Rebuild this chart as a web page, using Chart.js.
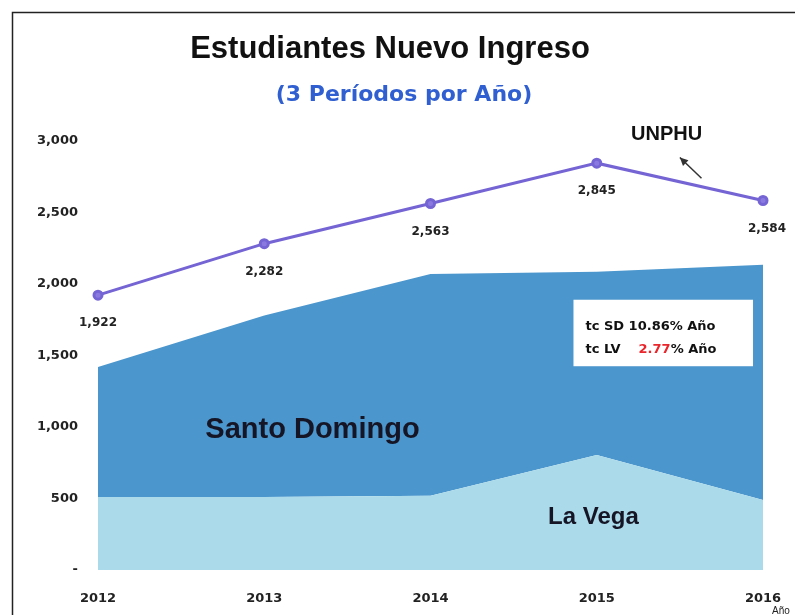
<!DOCTYPE html>
<html>
<head>
<meta charset="utf-8">
<script src="https://cdn.jsdelivr.net/npm/chart.js@4.4.1/dist/chart.umd.min.js"></script>
<style>
  html, body { margin: 0; padding: 0; background: #ffffff; }
  #wrap { width: 795px; height: 615px; position: relative; }
</style>
</head>
<body>
<div id="wrap"><canvas id="c" width="795" height="615"></canvas></div>
<script>
// ---- data ----
const years = ['2012', '2013', '2014', '2015', '2016'];
const unphu = [1922, 2282, 2563, 2845, 2584];
const laVega = [510, 510, 520, 805, 490];
const santoDomingo = [910, 1270, 1550, 1280, 1645];
const yTickValues = [0, 500, 1000, 1500, 2000, 2500, 3000];
const titleText = 'Estudiantes Nuevo Ingreso';
const subtitleText = '(3 Períodos por Año)';
const noteSD = ['tc SD ', '10.86', '% Año'];
const noteLV = ['tc LV ', '2.77', '% Año'];

function fmt(v) { return v === 0 ? '-' : v.toLocaleString('en-US'); }

const decor = {
  id: 'decor',
  afterDraw(chart) {
    const ctx = chart.ctx;
    const xs = chart.scales.x, ys = chart.scales.y;
    const X = v => xs.getPixelForValue(v);
    const Y = v => ys.getPixelForValue(v);
    ctx.save();
    // frame
    ctx.strokeStyle = '#222';
    ctx.lineWidth = 1.5;
    ctx.strokeRect(12.5, 12.5, 800, 620);

    // title
    ctx.fillStyle = '#111';
    ctx.textAlign = 'center';
    ctx.textBaseline = 'alphabetic';
    ctx.font = 'bold 31px "Liberation Sans", Arial, sans-serif';
    ctx.fillText(titleText, 390, 58);
    ctx.fillStyle = '#2f5fd0';
    ctx.font = 'bold 22px "DejaVu Sans", sans-serif';
    ctx.fillText(subtitleText, 404, 101);

    // data labels for UNPHU
    const meta = chart.getDatasetMeta(2);
    ctx.fillStyle = '#222';
    ctx.font = 'bold 12px "DejaVu Sans", sans-serif';
    ctx.textBaseline = 'middle';
    meta.data.forEach((pt, i) => {
      ctx.fillText(fmt(unphu[i]), pt.x + (i === 4 ? 4 : 0), pt.y + 28);
    });

    // area labels
    ctx.fillStyle = '#151525';
    ctx.font = 'bold 29px "Liberation Sans", Arial, sans-serif';
    ctx.fillText('Santo Domingo', X(1.29), Y(980));
    ctx.font = 'bold 24px "Liberation Sans", Arial, sans-serif';
    ctx.fillText('La Vega', X(2.98), Y(370));

    // note box
    const bx0 = X(2.86), bx1 = X(3.94), by0 = Y(1890), by1 = Y(1425);
    ctx.fillStyle = '#ffffff';
    ctx.fillRect(bx0, by0, bx1 - bx0, by1 - by0);
    ctx.textAlign = 'left';
    ctx.textBaseline = 'alphabetic';
    ctx.font = 'bold 13px "DejaVu Sans", sans-serif';
    function drawParts(parts, x, y, colors) {
      parts.forEach((p, k) => {
        ctx.fillStyle = colors[k];
        ctx.fillText(p, x, y);
        x += ctx.measureText(p).width;
      });
    }
    drawParts(noteSD, bx0 + 12, by0 + 30, ['#111', '#111', '#111']);
    drawParts([noteLV[0]], bx0 + 12, by0 + 53, ['#111']);
    const lvX = bx0 + 12 + ctx.measureText(noteLV[0] + '   ').width;
    drawParts([noteLV[1], noteLV[2]], lvX, by0 + 53, ['#e8262b', '#111']);

    // UNPHU label + arrow
    ctx.fillStyle = '#111';
    ctx.textAlign = 'center';
    ctx.font = 'bold 20px "Liberation Sans", Arial, sans-serif';
    ctx.fillText('UNPHU', X(3.42), Y(3010));
    const ax0 = X(3.63), ay0 = Y(2740), ax1 = X(3.5), ay1 = Y(2885);
    ctx.strokeStyle = '#333';
    ctx.lineWidth = 1.5;
    ctx.beginPath(); ctx.moveTo(ax0, ay0); ctx.lineTo(ax1, ay1); ctx.stroke();
    const ang = Math.atan2(ay1 - ay0, ax1 - ax0);
    ctx.fillStyle = '#333';
    ctx.beginPath();
    ctx.moveTo(ax1, ay1);
    ctx.lineTo(ax1 - 9 * Math.cos(ang - 0.45), ay1 - 9 * Math.sin(ang - 0.45));
    ctx.lineTo(ax1 - 9 * Math.cos(ang + 0.45), ay1 - 9 * Math.sin(ang + 0.45));
    ctx.closePath(); ctx.fill();

    // axis unit
    ctx.fillStyle = '#222';
    ctx.font = '10px "Liberation Sans", Arial, sans-serif';
    ctx.textAlign = 'left';
    ctx.fillText('Año', 772, 614);
    ctx.restore();
  }
};

new Chart(document.getElementById('c'), {
  type: 'line',
  data: {
    labels: years,
    datasets: [
      {
        label: 'La Vega',
        data: laVega,
        stack: 'campus',
        fill: 'origin',
        backgroundColor: '#abdbea',
        borderWidth: 0,
        borderColor: 'rgba(0,0,0,0)',
        pointRadius: 0,
        tension: 0
      },
      {
        label: 'Santo Domingo',
        data: santoDomingo,
        stack: 'campus',
        fill: '-1',
        backgroundColor: '#4b96cd',
        borderWidth: 0,
        borderColor: 'rgba(0,0,0,0)',
        pointRadius: 0,
        tension: 0
      },
      {
        label: 'UNPHU',
        data: unphu,
        stack: 'unphu',
        fill: false,
        borderColor: '#7464d4',
        backgroundColor: '#7464d4',
        borderWidth: 3,
        pointRadius: 4,
        pointBackgroundColor: '#8a7ae0',
        pointBorderColor: '#7464d4',
        tension: 0
      }
    ]
  },
  options: {
    responsive: false,
    animation: false,
    layout: { padding: { top: 141, left: 0, right: 32, bottom: 0 } },
    plugins: {
      legend: { display: false },
      title: { display: false },
      tooltip: { enabled: false }
    },
    scales: {
      x: {
        offset: false,
        grid: { display: false, drawTicks: false },
        border: { display: false },
        ticks: { color: '#222', font: { family: 'DejaVu Sans', weight: 'bold', size: 13 }, padding: 21, maxRotation: 0 },
        afterFit(s) { s.height = 45; s.paddingRight = 0; s.paddingLeft = 0; }
      },
      y: {
        stacked: true,
        min: 0,
        max: 3000,
        grid: { display: false, drawTicks: false },
        border: { display: false },
        afterBuildTicks(s) { s.ticks = yTickValues.map(v => ({ value: v })); },
        ticks: {
          color: '#222',
          font: { family: 'DejaVu Sans', weight: 'bold', size: 13 },
          padding: 20,
          callback: v => fmt(v)
        },
        afterFit(s) { s.width = 98; }
      }
    }
  },
  plugins: [decor]
});
</script>
</body>
</html>
